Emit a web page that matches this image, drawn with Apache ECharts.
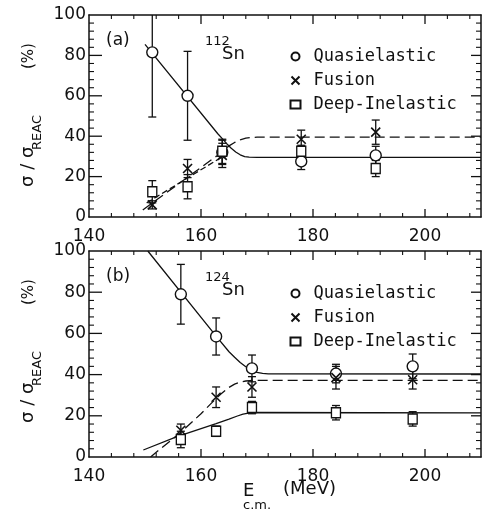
<!DOCTYPE html>
<html>
<head>
<meta charset="utf-8">
<script src="https://cdn.jsdelivr.net/npm/echarts/dist/echarts.min.js"></script>
<style>
html,body{margin:0;padding:0;background:#fff;}
#chart{width:483px;height:516px;}
</style>
</head>
<body>
<div id="chart"></div>
<script>
// ---------- data ----------
const seriesNames = ['Quasielastic', 'Fusion', 'Deep-Inelastic'];
const xTicks = [140, 160, 180, 200];
const yTicks = [0, 20, 40, 60, 80, 100];

// panel (a) 112Sn
const energyA = [151.3, 157.6, 163.8, 177.9, 191.2];
const quasiA = [81.5, 60, 32, 27.5, 30.5];
const quasiErrA = [32, 22, 6, 4, 4.5];
const fusionA = [6, 24, 30.5, 38.5, 42];
const fusionErrA = [2, 4.5, 6, 4.5, 6];
const deepA = [12.5, 15, 32.5, 32.5, 24];
const deepErrA = [5.5, 6, 6, 3, 4];

const quasiCurveA = [[150,85.5],[163,41.2],[163.8,38.8],[164.6,36.3],[165.4,34],[166.2,32.2],[167,30.8],[167.8,29.9],[168.6,29.6],[170,29.5],[210,29.5]];
const fusionCurveA = [[149.6,3.5],[163,30.6],[164,33],[165,35.2],[166,36.9],[167,38.2],[168,39],[169,39.4],[170,39.5],[210,39.5]];
const deepCurveA = [[150.3,7],[164.5,31]];

// panel (b) 124Sn
const energyB = [156.4, 162.7, 169.1, 184.1, 197.8];
const quasiB = [79, 58.5, 43, 40.5, 44];
const quasiErrB = [14.5, 9, 6.5, 4.5, 6];
const fusionB = [13, 29, 34, 38.5, 37.5];
const fusionErrB = [3, 5, 5, 5.5, 4.5];
const deepB = [8.5, 12.5, 24, 21.5, 18.5];
const deepErrB = [4, 2.5, 3, 3.5, 3.5];

const quasiCurveB = [[150.5,100],[162.7,58.7],[165,51.1],[166,48.4],[167,45.9],[168,43.8],[169,42.2],[170,41.1],[171,40.6],[172,40.4],[210,40.3]];
const fusionCurveB = [[151,0],[153,4.5],[156.4,12],[160,21],[162,26.5],[163.5,30.5],[165,33.8],[166,35.4],[167,36.4],[168,36.9],[169.5,37.2],[210,37.2]];
const deepCurveB = [[149.7,3.4],[155.6,9.8],[158,12],[162.7,16.2],[165,18.4],[166.5,19.9],[167.5,20.8],[168.5,21.3],[170,21.6],[210,21.4]];

// ---------- styles ----------
const INK = '#111';
const FONT = 'DejaVu Sans';
const X_MIN = 140, X_MAX = 210, Y_MIN = 0, Y_MAX = 100;

const circleStyle = {symbol:'circle', symbolSize:11, itemStyle:{color:'#fff', borderColor:INK, borderWidth:1.4, opacity:1}};
const crossStyle = {symbol:'path://M0,0L10,10M10,0L0,10', symbolSize:9, itemStyle:{color:'none', borderColor:INK, borderWidth:1.6, opacity:1}};
const squareStyle = {symbol:'rect', symbolSize:[9,10], itemStyle:{color:'#fff', borderColor:INK, borderWidth:1.4, opacity:1}};

function xAxesFor(g, labels) {
  const base = {type:'value', gridIndex:g, min:X_MIN, max:X_MAX, interval:20, splitLine:{show:false},
    axisTick:{show:false}, minorTick:{show:false}};
  return [
    Object.assign({}, base, {position:'bottom',
      axisLine:{show:true, onZero:false, lineStyle:{color:INK, width:1.5}},
      axisLabel:{show:labels, showMaxLabel:false, color:INK, fontFamily:FONT, fontSize:17, margin:11,
        formatter: v => xTicks.indexOf(v) >= 0 ? String(v) : ''}}),
    Object.assign({}, base, {position:'top',
      axisLine:{show:true, onZero:false, lineStyle:{color:INK, width:1.5}},
      axisLabel:{show:false}})
  ];
}
function yAxesFor(g) {
  const base = {type:'value', gridIndex:g, min:Y_MIN, max:Y_MAX, interval:20, splitLine:{show:false},
    axisTick:{show:false}, minorTick:{show:false}};
  return [
    Object.assign({}, base, {position:'left',
      axisLine:{show:true, onZero:false, lineStyle:{color:INK, width:1.5}},
      axisLabel:{show:true, color:INK, fontFamily:FONT, fontSize:17, margin:3,
        formatter: v => yTicks.indexOf(v) >= 0 ? String(v) : ''}}),
    Object.assign({}, base, {position:'right',
      axisLine:{show:true, onZero:false, lineStyle:{color:INK, width:1.5}},
      axisLabel:{show:false}})
  ];
}

function errorBars(xi, yi, E, V, Err) {
  return {
    type:'custom', xAxisIndex:xi, yAxisIndex:yi, z:3, silent:true,
    data: E.map((e, i) => [e, V[i] - Err[i], V[i] + Err[i]]),
    renderItem: function (params, api) {
      const x = api.value(0);
      const lo = api.coord([x, Math.max(Y_MIN, api.value(1))]);
      const hi = api.coord([x, Math.min(Y_MAX, api.value(2))]);
      const hw = 4;
      const st = {stroke:INK, lineWidth:1.3};
      const children = [{type:'line', shape:{x1:lo[0], y1:lo[1], x2:hi[0], y2:hi[1]}, style:st}];
      if (api.value(1) >= Y_MIN) children.push({type:'line', shape:{x1:lo[0]-hw, y1:lo[1], x2:lo[0]+hw, y2:lo[1]}, style:st});
      if (api.value(2) <= Y_MAX) children.push({type:'line', shape:{x1:hi[0]-hw, y1:hi[1], x2:hi[0]+hw, y2:hi[1]}, style:st});
      return {type:'group', children:children};
    }
  };
}
// inward ticks on all four sides, placed through the axes' own scales
function tickMarks(xi, yi) {
  const items = [];
  for (let v = X_MIN + 4; v < X_MAX; v += 4) {
    const major = v % 20 === 0;
    items.push([0, v, major ? 8 : 4]); items.push([1, v, major ? 9 : 4]);
  }
  for (let v = Y_MIN + 4; v < Y_MAX; v += 4) {
    const major = v % 20 === 0;
    items.push([2, v, major ? 13 : 5]); items.push([3, v, major ? 10 : 5]);
  }
  return {
    type:'custom', xAxisIndex:xi, yAxisIndex:yi, z:1, silent:true, clip:false, data: items,
    renderItem: function (params, api) {
      const k = api.value(0), v = api.value(1), len = api.value(2);
      let p, q;
      if (k === 0) { p = api.coord([v, Y_MIN]); q = [p[0], p[1] - len]; }
      else if (k === 1) { p = api.coord([v, Y_MAX]); q = [p[0], p[1] + len]; }
      else if (k === 2) { p = api.coord([X_MIN, v]); q = [p[0] + len, p[1]]; }
      else { p = api.coord([X_MAX, v]); q = [p[0] - len, p[1]]; }
      return {type:'line', shape:{x1:p[0], y1:p[1], x2:q[0], y2:q[1]}, style:{stroke:INK, lineWidth:len > 5 ? 1.3 : 1.1}};
    }
  };
}
function points(name, xi, yi, E, V, style) {
  return Object.assign({type:'scatter', name:name, xAxisIndex:xi, yAxisIndex:yi, z:5,
    data: E.map((e, i) => [e, V[i]])}, JSON.parse(JSON.stringify(style)));
}
function curve(xi, yi, pts, dash) {
  return {type:'line', xAxisIndex:xi, yAxisIndex:yi, z:2, showSymbol:false, symbol:'none', silent:true,
    smooth:false, data:pts, lineStyle:{color:INK, width:1.3, type:dash || 'solid'}};
}

function legendAt(top) {
  return {data: seriesNames, orient:'vertical', left:284, top:top, itemWidth:10, itemHeight:8, itemGap:7,
    selectedMode:false,
    textStyle:{fontFamily:'DejaVu Sans Mono', fontSize:17, color:INK, lineHeight:17, padding:[0,0,0,8]}};
}

function rotText(x, y, text, size) {
  return {type:'text', x:x, y:y, rotation:Math.PI/2, silent:true,
    style:{text:text, fill:INK, font:size + 'px "' + FONT + '"', textAlign:'left', textVerticalAlign:'middle'}};
}
function txt(x, y, text, size) {
  return {type:'text', x:x, y:y, silent:true,
    style:{text:text, fill:INK, font:size + 'px "' + FONT + '"', textAlign:'left', textVerticalAlign:'middle'}};
}
function panelTexts(dy, tag, mass) {
  return [
    txt(106, 41 + dy, tag, 17),
    txt(205, 42 + dy, mass, 13),
    txt(222, 54 + dy, 'Sn', 18),
    rotText(28, 187 + dy, 'σ / σ', 18),
    rotText(38, 150 + dy, 'REAC', 13),
    rotText(29, 69 + dy, '(%)', 15)
  ];
}

const chart = echarts.init(document.getElementById('chart'), null, {renderer:'canvas'});
chart.setOption({
  animation:false,
  backgroundColor:'#fff',
  grid:[
    {left:89, top:15, width:392, height:202},
    {left:89, top:251, width:392, height:206}
  ],
  xAxis: xAxesFor(0, true).concat(xAxesFor(1, true)),
  yAxis: yAxesFor(0).concat(yAxesFor(1)),
  legend:[legendAt(43), legendAt(280)],
  series:[
    tickMarks(0, 0),
    curve(0, 0, quasiCurveA),
    curve(0, 0, fusionCurveA, [10, 5]),
    curve(0, 0, deepCurveA, [6, 3]),
    errorBars(0, 0, energyA, quasiA, quasiErrA),
    errorBars(0, 0, energyA, fusionA, fusionErrA),
    errorBars(0, 0, energyA, deepA, deepErrA),
    points('Quasielastic', 0, 0, energyA, quasiA, circleStyle),
    points('Fusion', 0, 0, energyA, fusionA, crossStyle),
    points('Deep-Inelastic', 0, 0, energyA, deepA, squareStyle),

    tickMarks(2, 2),
    curve(2, 2, quasiCurveB),
    curve(2, 2, fusionCurveB, [10, 5]),
    curve(2, 2, deepCurveB),
    errorBars(2, 2, energyB, quasiB, quasiErrB),
    errorBars(2, 2, energyB, fusionB, fusionErrB),
    errorBars(2, 2, energyB, deepB, deepErrB),
    points('Quasielastic', 2, 2, energyB, quasiB, circleStyle),
    points('Fusion', 2, 2, energyB, fusionB, crossStyle),
    points('Deep-Inelastic', 2, 2, energyB, deepB, squareStyle)
  ],
  graphic: panelTexts(0, '(a)', '112').concat(panelTexts(236, '(b)', '124')).concat([
    txt(243, 491, 'E', 18),
    txt(243, 506, 'c.m.', 13),
    txt(283, 489, '(MeV)', 18)
  ])
});
</script>
</body>
</html>
